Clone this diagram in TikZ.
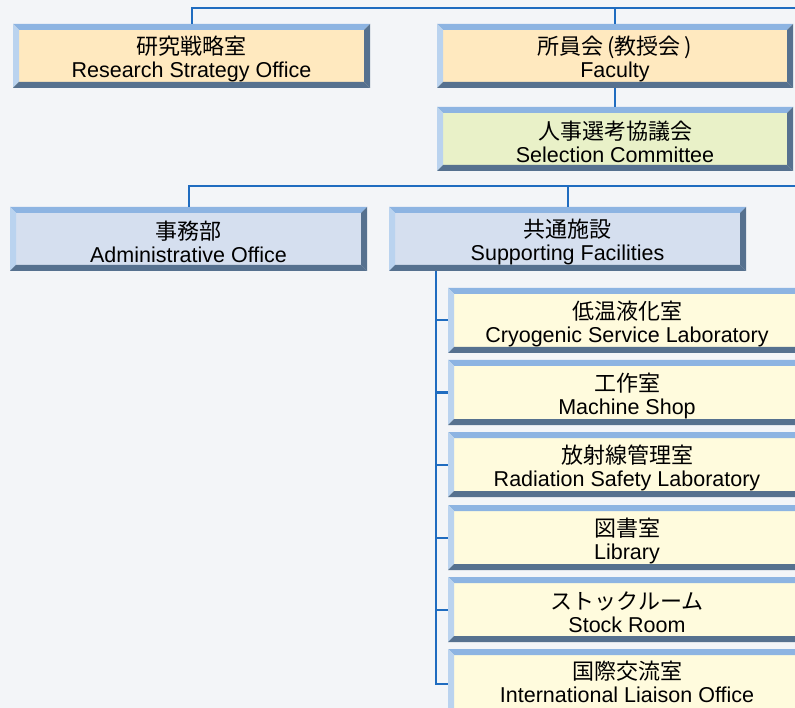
\documentclass[tikz,border=0pt]{standalone}
\usepackage{fontspec}
\setmainfont{Liberation Sans}
\newfontfamily\jpfont{Noto Sans CJK JP}
\usetikzlibrary{calc}
\definecolor{bgc}{HTML}{F3F5F8}
\definecolor{orangef}{HTML}{FFE9BF}
\definecolor{greenf}{HTML}{E9F1C8}
\definecolor{bluef}{HTML}{D5DFEF}
\definecolor{yellowf}{HTML}{FFFBDD}
\definecolor{bevtop}{HTML}{8DB4E2}
\definecolor{bevleft}{HTML}{BAD3EF}
\definecolor{bevdark}{HTML}{56718F}
\definecolor{linkc}{HTML}{1F6CC0}
\tikzset{
  bx/.style={inner sep=0pt, align=center, font=\fontsize{21.5}{23}\selectfont, text=black},
  link/.style={draw=linkc, line width=2pt},
}
% name, x1, y1, x2, y2, fill, japanese, english, text offset
\newcommand\bevelbox[9]{%
  \fill[#6] (#2,#3) rectangle (#4,#5);
  \coordinate (#1-nw) at (#2,#3);
  \coordinate (#1-ne) at (#4,#3);
  \coordinate (#1-sw) at (#2,#5);
  \coordinate (#1-se) at (#4,#5);
  \fill[bevtop] (#1-nw) -- (#1-ne) -- ([shift={(-6pt,-6pt)}]#1-ne) -- ([shift={(6pt,-6pt)}]#1-nw) -- cycle;
  \fill[bevleft] (#1-nw) -- ([shift={(6pt,-6pt)}]#1-nw) -- ([shift={(6pt,6pt)}]#1-sw) -- (#1-sw) -- cycle;
  \fill[bevdark] (#1-ne) -- (#1-se) -- ([shift={(-6pt,6pt)}]#1-se) -- ([shift={(-6pt,-6pt)}]#1-ne) -- cycle;
  \fill[bevdark] (#1-sw) -- (#1-se) -- ([shift={(-6pt,6pt)}]#1-se) -- ([shift={(6pt,6pt)}]#1-sw) -- cycle;
  \node[bx, minimum width={#4-#2}, minimum height={#5-#3}] (#1) at ({(#2+#4)/2},{(#3+#5)/2}) {};
  \node[bx] (#1-t) at ({(#2+#4)/2},{(#3+#5)/2+#9}) {{\jpfont\fontsize{22}{23}\selectfont #7}\\#8};
}
\begin{document}
\begin{tikzpicture}[x=1pt,y=-1pt]
\fill[bgc] (0,0) rectangle (795,708);
\clip (0,0) rectangle (795,708);
\useasboundingbox (0,0) rectangle (795,708);

\bevelbox{rso}{13}{24}{370}{88}{orangef}{研究戦略室}{Research Strategy Office}{3}
\bevelbox{fac}{437}{24}{793}{88}{orangef}{所員会\kern4pt(教授会\kern4pt)}{Faculty}{3}
\bevelbox{sel}{437}{107}{793}{171}{greenf}{人事選考協議会}{Selection Committee}{3}
\bevelbox{adm}{10}{207}{367}{271}{bluef}{事務部}{Administrative Office}{3}
\bevelbox{sup}{389}{207}{746}{271}{bluef}{共通施設}{Supporting Facilities}{3}
\bevelbox{s1}{448}{288}{806}{353}{yellowf}{低温液化室}{Cryogenic Service Laboratory}{3}
\bevelbox{s2}{448}{360}{806}{425}{yellowf}{工作室}{Machine Shop}{3}
\bevelbox{s3}{448}{432}{806}{497}{yellowf}{放射線管理室}{Radiation Safety Laboratory}{3}
\bevelbox{s4}{448}{505}{806}{570}{yellowf}{図書室}{Library}{3}
\bevelbox{s5}{448}{577}{806}{642}{yellowf}{ストックルーム}{Stock Room}{3}
\bevelbox{s6}{448}{649}{806}{714}{yellowf}{国際交流室}{International Liaison Office}{0}

% top bus
\coordinate (busA) at (820,8.5);
\draw[link] (rso.north) -- (rso.north |- busA) -- (busA);
\draw[link] (fac.north) -- (fac.north |- busA);
\draw[link] (fac.south) -- (sel.north);
% second bus
\coordinate (busB) at (820,186);
\draw[link] (adm.north) -- (adm.north |- busB) -- (busB);
\draw[link] (sup.north) -- (sup.north |- busB);
% trunk
\coordinate (trunk) at (436,271);
\draw[link] (trunk) |- ([yshift=-2pt]s6.west);
\foreach \s in {s1,s2,s3,s4,s5}{
  \draw[link] (trunk |- \s.west) -- (\s.west);
}
\end{tikzpicture}
\end{document}
